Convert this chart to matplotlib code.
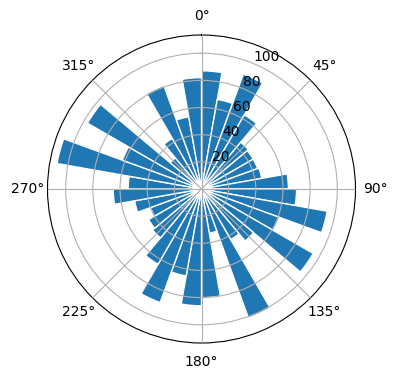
import numpy as np
import matplotlib
matplotlib.use("Agg")
import matplotlib.pyplot as plt

# sector start angles in degrees (10-degree sectors, clockwise from north)
sector_start_deg = list(range(0, 360, 10))
sector_width_deg = 10
# bar lengths
radii = [87, 67, 90, 63, 45, 44, 44, 45, 64,
         70, 94, 61, 95, 50, 43, 101, 33, 80,
         86, 65, 89, 64, 47, 45, 40, 50, 65,
         54, 108, 62, 97, 30, 43, 81, 54, 82]

fig = plt.figure(figsize=(3.96, 3.80), dpi=100)
ax = fig.add_axes([(201.5 - 154) / 396, (380 - 189 - 154) / 380, 308 / 396, 308 / 380],
                  projection="polar")
ax.set_theta_zero_location("N")
ax.set_theta_direction(-1)

theta = np.deg2rad(sector_start_deg)
ax.bar(theta, radii, width=np.deg2rad(sector_width_deg), align="edge",
       color="#1f77b4", edgecolor="white", linewidth=1, zorder=2)
ax.set_axisbelow(False)
ax.grid(True, zorder=3)

fig.savefig("out.png", dpi=100)
